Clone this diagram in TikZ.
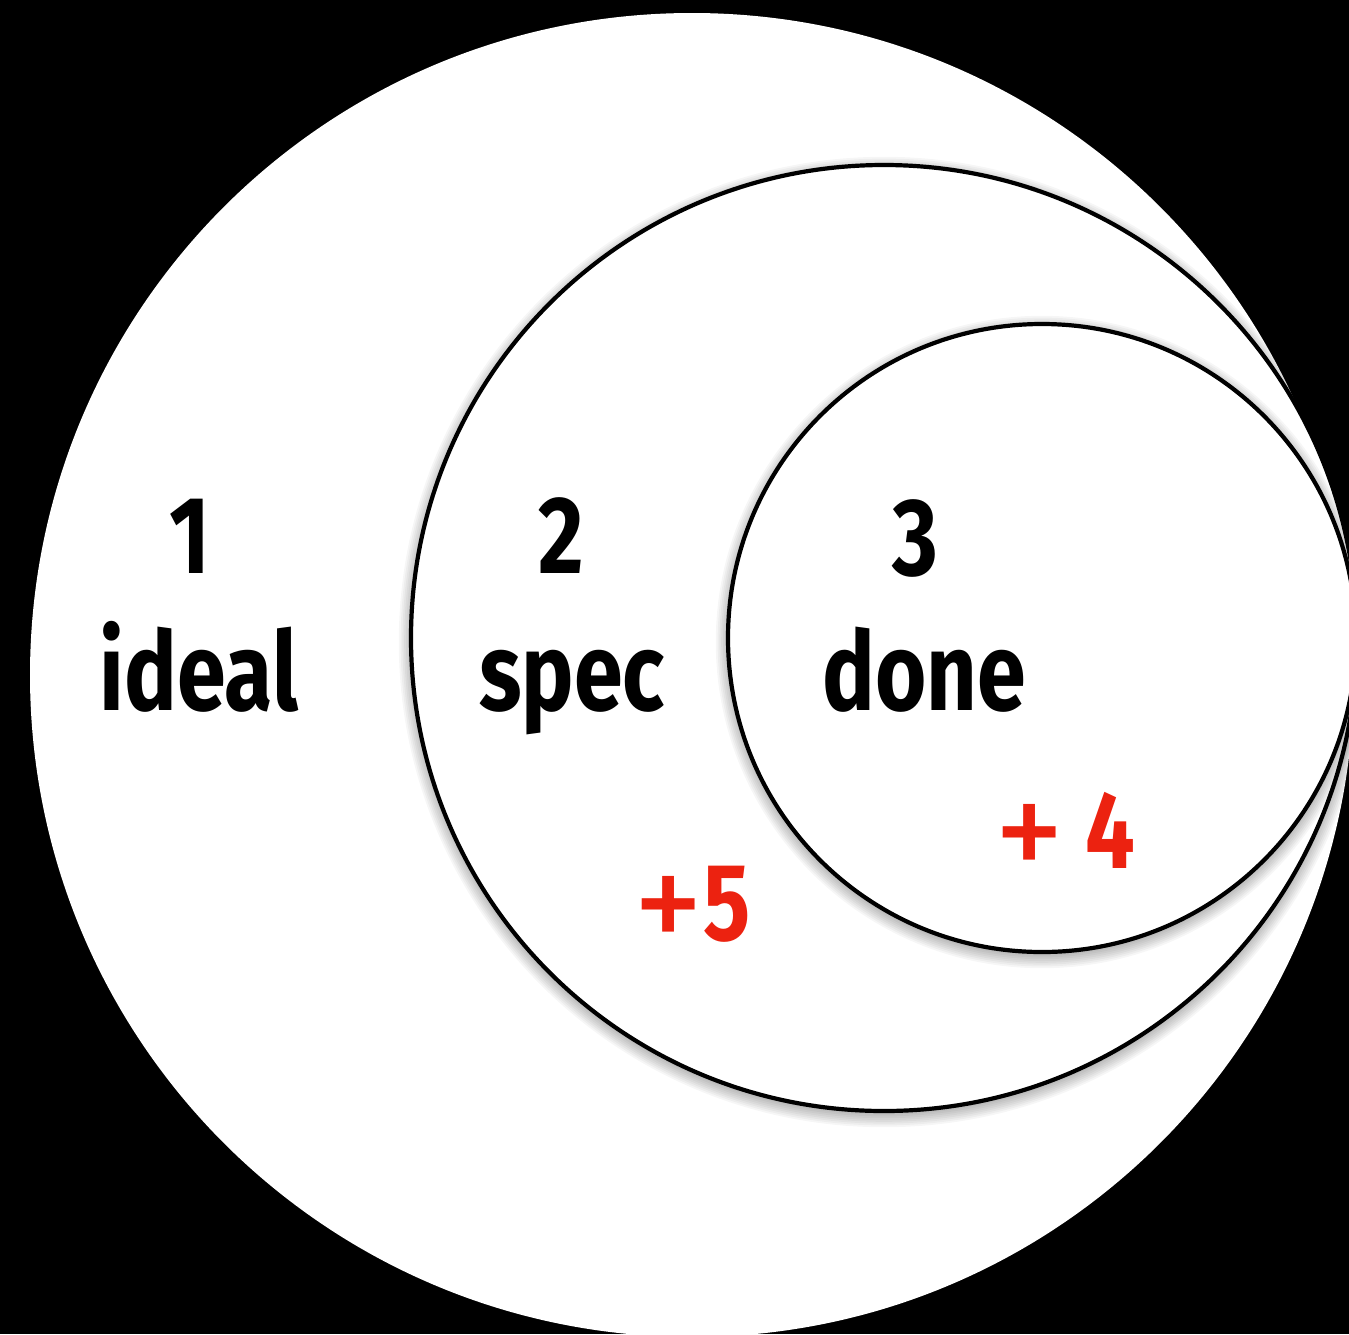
\documentclass[tikz,border=0pt]{standalone}
\usepackage{fontspec}
\usepackage{graphicx}
\setmainfont{Fira Sans}[FakeStretch=0.8]
\definecolor{plusred}{RGB}{236,34,16}
\newcommand{\bigplus}{\raisebox{-0.12em}{\scalebox{1.6}[1.35]{\mdseries +}}}
\begin{document}
\begin{tikzpicture}[x=1pt,y=-1pt,
  lbl/.style={anchor=base, inner sep=0pt, font=\fontsize{110}{120}\selectfont\bfseries},
  redlbl/.style={lbl, text=plusred},
  ring/.style={draw=black, fill=white, line width=4.2pt}]
\fill[black] (0,0) rectangle (1349,1334);
\useasboundingbox (0,0) rectangle (1349,1334);
\coordinate (cbig) at (692,675);
\coordinate (cmid) at (884,638);
\coordinate (csmall) at (1042,638);
\begin{scope}
\clip (0,0) rectangle (1349,1334);
\fill[white] (cbig) circle (662pt);
% shadow of middle circle
\foreach \k in {1,...,8}
  \fill[black,opacity=0.035] ([yshift=-4pt]cmid) circle ({473pt+14pt-\k*1.8pt});
\draw[ring] (cmid) circle (473pt);
% shadow of inner circle
\foreach \k in {1,...,8}
  \fill[black,opacity=0.035] ([yshift=-4pt]csmall) circle ({314pt+14pt-\k*1.8pt});
\draw[ring] (csmall) circle (314pt);
\end{scope}
\node[lbl] (n1) at (190,573) {1};
\node[lbl] (t1) at (199,710) {ideal};
\node[lbl] (n2) at (561,573) {2};
\node[lbl] (t2) at (572,710) {spec};
\node[lbl] (n3) at (915,575) {3};
\node[lbl] (t3) at (924,710) {done};
\node[redlbl] (p5) at (692,940) {\bigplus5};
\node[redlbl] (p4) at (1065,868) {\bigplus\ 4};
\end{tikzpicture}
\end{document}
